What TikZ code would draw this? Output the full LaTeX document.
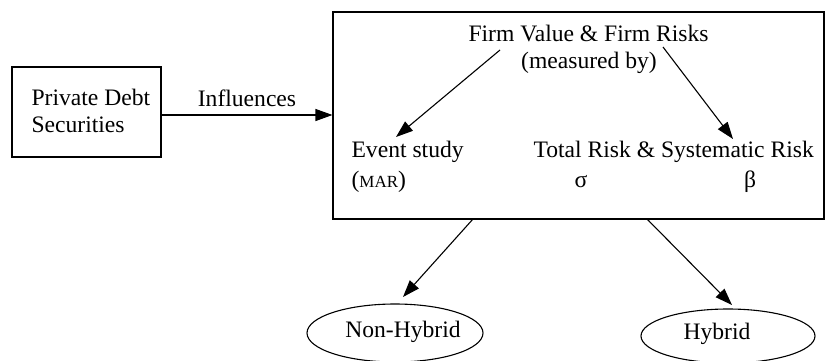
\documentclass[tikz,border=0pt]{standalone}
\usepackage{fontspec}
\setmainfont{Liberation Serif}
\usetikzlibrary{arrows.meta,shapes.geometric}
\begin{document}
\begin{tikzpicture}[x=1pt,y=-1pt,
  line width=1.1pt,
  every node/.style={font=\fontsize{23.6}{29}\selectfont, inner sep=0pt},
  arr/.style={-{Triangle[length=17pt,width=12pt]}},
  boxnode/.style={draw, rectangle},
  oval/.style={draw, ellipse, minimum width=176pt, minimum height=58pt},
  lbl/.style={anchor=center}
]
\useasboundingbox (0,0) rectangle (825,360);
% boxes
\node[boxnode, minimum width=149pt, minimum height=90pt] (pds) at (86.5,112) {};
\node[anchor=west, align=left, font=\fontsize{23.6}{27}\selectfont] (pdstext) at (31,110.5) {Private Debt\\Securities};
\node[boxnode, minimum width=491pt, minimum height=207pt] (big) at (578.5,115.5) {};
% texts inside big box
\node[lbl] (firm) at (588.5,33) {Firm Value \& Firm Risks};
\node[lbl] (meas) at (589,63) {(measured by)};
\node[anchor=west] (event) at (351,152) {Event study};
\node[anchor=west] (mar) at (351,182) {({\fontsize{17}{20}\selectfont MAR})};
\node[anchor=west] (total) at (533,152) {Total Risk \& Systematic Risk};
\node[lbl] (sigma) at (581,182) {σ};
\node[lbl] (beta) at (750,182) {β};
% ellipses
\node[oval] (nonhyb) at (395,333) {};
\node[lbl] (nhtext) at (403,332) {Non-Hybrid};
\node[oval, minimum width=174pt, minimum height=54pt] (hyb) at (728,336) {};
\node[lbl] (htext) at (717,334) {Hybrid};
% coordinates
\coordinate (a1s) at (500,50);
\coordinate (a1e) at (396,137);
\coordinate (a2s) at (663,47);
\coordinate (a2e) at (733,139);
\coordinate (b1s) at (473,219);
\coordinate (b1e) at (403,297);
\coordinate (b2s) at (647,219);
\coordinate (b2e) at (732,305);
% connectors
\draw[arr] ([yshift=-3pt]pds.east) -- ([yshift=-3pt]pds.east -| big.west)
  node[midway, above=8pt] (infl) {Influences};
\draw[arr] (a1s) -- (a1e);
\draw[arr] (a2s) -- (a2e);
\draw[arr] (b1s) -- (b1e);
\draw[arr] (b2s) -- (b2e);
\end{tikzpicture}
\end{document}
